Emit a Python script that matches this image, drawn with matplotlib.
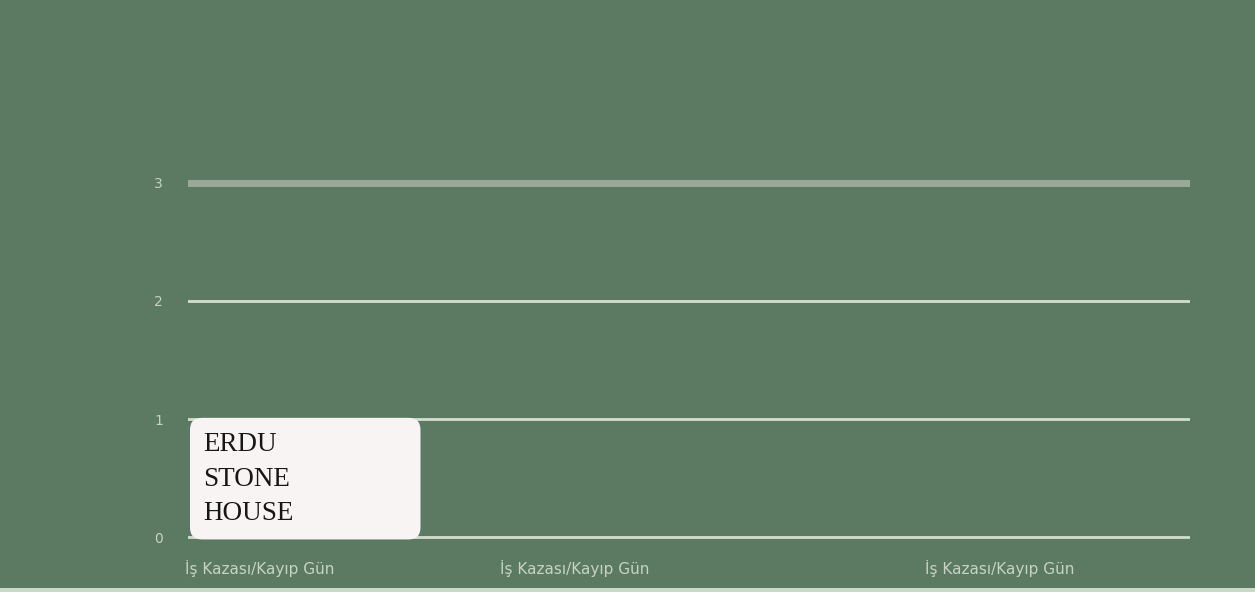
import numpy as np
import matplotlib.pyplot as plt
from matplotlib.patches import FancyBboxPatch, Rectangle

""" data """
categories = ['İş Kazası/Kayıp Gün', 'İş Kazası/Kayıp Gün', 'İş Kazası/Kayıp Gün']
values = [1, 0, 0]
bar_label = 'ERDU\nSTONE\nHOUSE'
y_ticks = [0, 1, 2, 3]

""" style """
bg = '#5c7961'
grid_col = '#d3dece'
top_grid_col = '#99aa98'
tick_col = '#c5d3c3'
bar_col = '#f9f4f4'

# category centres along the axis (layout only)
x_pos = [0.117, 0.386, 0.81]
label_pos = [0.072, 0.386, 0.81]
bar_w = 0.23

fig = plt.figure(figsize=(12.55, 5.92), dpi=100)
fig.patch.set_facecolor(bg)
ax = fig.add_axes([0.1498, 0.0828, 0.7985, 0.6182])
ax.set_facecolor(bg)
ax.set_xlim(0, 1)
ax.set_ylim(-0.05, 3.05)

# gridlines
for v in y_ticks:
    lw = 5 if v == 3 else 2.0
    col = top_grid_col if v == 3 else grid_col
    ax.axhline(v, color=col, lw=lw, zorder=1)

# bars, redrawn with rounded corners
bars = ax.bar([x_pos[i] for i in range(len(values))], values, width=bar_w,
              color=bar_col, zorder=2)
px_x = 1.0 / (0.7985 * 1255)
px_y = 3.1 / (0.6182 * 592)
for rect, v in zip(bars, values):
    x, y, w, h = rect.get_x(), rect.get_y(), rect.get_width(), rect.get_height()
    rect.remove()
    if h <= 0:
        continue
    box = FancyBboxPatch((x, y - 0.02), w, h + 0.03,
                         boxstyle='round,pad=0,rounding_size=%f' % (12 * px_x),
                         mutation_aspect=px_y / px_x,
                         fc=bar_col, ec='none', zorder=3)
    ax.add_patch(box)
    ax.text(x + 13 * px_x, y + h - 13 * px_y, bar_label, ha='left', va='top',
            family='Liberation Serif', fontsize=19.5, color='#161616',
            linespacing=1.5, zorder=4)

ax.set_yticks(y_ticks)
ax.set_yticklabels([str(t) for t in y_ticks], color=tick_col, fontsize=10)
ax.set_xticks(label_pos)
ax.set_xticklabels(categories, color=tick_col, fontsize=11)
ax.tick_params(axis='both', length=0)
ax.tick_params(axis='y', pad=18)
ax.tick_params(axis='x', pad=12)
for s in ax.spines.values():
    s.set_visible(False)

# light strip along the bottom edge
fig.patches.append(Rectangle((0, 0), 1, 4 / 592, transform=fig.transFigure,
                             fc='#c9d8c8', ec='none'))

plt.savefig('out.png', dpi=100, facecolor=bg)
